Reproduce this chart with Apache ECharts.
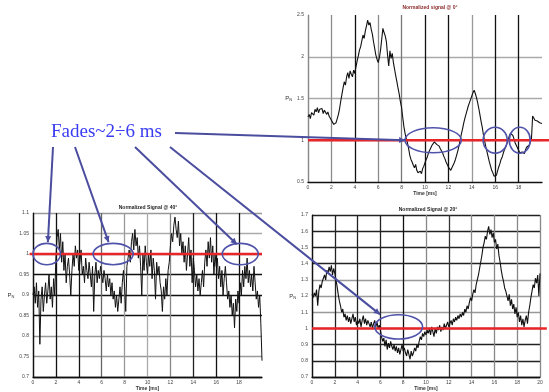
<!DOCTYPE html>
<html>
<head>
<meta charset="utf-8">
<script src="https://cdn.jsdelivr.net/npm/echarts@6/dist/echarts.min.js"></script>
<style>
  html, body { margin: 0; padding: 0; background: #ffffff; }
  #c { width: 549px; height: 392px; }
</style>
</head>
<body>
<div id="c"></div>
<script>
// Sampling step of the recorded envelopes, in ms
const timeStep = 0.1;

// Normalized received power, antenna at 0 degrees (0 .. 20 ms)
const signal0 = [
  1.28,1.31,1.26,1.33,1.35,1.30,1.37,1.34,1.39,1.33,1.37,1.35,1.38,1.32,1.36,1.34,1.31,1.34,1.29,1.27,1.24,
  1.22,1.19,1.17,1.21,1.26,1.31,1.38,1.47,1.55,1.63,1.70,1.66,1.76,1.81,1.74,1.83,1.79,1.76,1.84,1.80,
  1.88,1.95,2.01,2.08,2.12,2.19,2.26,2.22,2.31,2.37,2.44,2.38,2.41,2.33,2.27,2.18,2.10,2.02,1.97,1.93,
  1.99,2.08,2.21,2.34,2.29,2.25,2.18,2.02,1.89,2.07,1.98,2.04,1.93,1.85,1.77,1.70,1.62,1.55,1.46,1.39,
  1.27,1.16,1.08,1.02,0.97,0.90,0.82,0.77,0.74,0.70,0.67,0.71,0.64,0.61,0.59,0.63,0.60,0.66,0.69,0.73,
  0.77,0.80,0.85,0.88,0.91,0.94,0.96,0.98,0.97,0.95,0.96,0.93,0.90,0.88,0.85,0.81,0.78,0.74,0.71,0.68,
  0.66,0.64,0.66,0.70,0.73,0.77,0.82,0.87,0.93,1.00,1.07,1.13,1.20,1.26,1.31,1.36,1.41,1.45,1.49,1.53,
  1.57,1.60,1.56,1.51,1.45,1.38,1.30,1.22,1.15,1.06,0.99,0.92,0.86,0.80,0.74,0.69,0.64,0.61,0.57,0.55,
  0.58,0.63,0.68,0.72,0.77,0.80,0.85,0.89,0.92,0.96,1.00,1.05,1.08,1.10,1.06,1.02,0.97,0.94,0.91,0.88,
  0.85,0.83,0.86,0.88,0.84,0.89,0.92,0.90,0.94,0.98,1.02,1.29,1.27,1.24,1.26,1.23,1.25,1.21,1.23,1.20
];

// Normalized received power, antenna at 40 degrees
const signal40 = [
  0.90,0.92,0.88,0.93,0.87,0.91,0.78,0.89,0.92,0.86,0.90,
  0.93,0.88,0.91,0.95,0.89,0.92,0.87,0.94,0.90,0.99,
  1.04,1.06,1.01,1.05,0.98,1.03,0.96,1.00,0.93,0.97,
  0.99,0.95,0.90,0.96,1.00,0.97,1.02,0.99,1.01,0.96,
  0.98,1.01,0.95,0.97,0.93,0.99,0.96,0.94,0.98,0.95,
  0.92,0.97,0.86,0.95,0.98,0.93,0.96,0.94,0.97,0.95,
  0.93,0.96,0.94,0.91,0.95,0.92,0.94,0.90,0.93,0.89,
  0.91,0.87,0.90,0.86,0.89,0.92,0.88,0.93,0.96,0.92,
  0.86,0.97,0.99,1.01,0.98,1.03,1.05,1.01,1.06,1.02,
  1.04,0.99,1.02,0.97,0.90,1.00,0.96,1.02,0.98,0.95,
  1.00,0.97,1.01,0.94,0.99,0.96,0.89,0.98,0.95,0.97,
  0.93,0.91,0.86,0.92,0.89,0.94,0.90,0.96,0.98,1.02,
  1.05,1.03,1.07,1.09,1.06,1.04,1.08,1.02,1.05,1.00,
  1.03,0.98,1.02,0.96,1.00,1.04,0.97,1.01,0.93,0.99,
  0.96,0.92,0.95,0.91,0.94,0.90,0.93,0.96,0.92,0.98,
  1.01,0.97,1.03,0.99,1.04,0.98,1.02,0.95,1.00,0.97,
  0.99,0.94,0.97,0.92,0.96,0.90,0.94,0.97,0.93,0.89,
  0.91,0.87,0.90,0.85,0.88,0.82,0.89,0.86,0.91,0.88,
  0.93,0.90,0.96,0.92,0.97,0.94,0.99,0.93,0.96,0.92,
  0.95,0.91,0.97,0.93,0.89,0.91,0.87,0.90,0.83,0.74
];

// Normalized received power, antenna at 20 degrees
const signal20 = [
  1.21,1.19,1.22,1.20,1.24,1.14,1.23,1.27,1.25,1.29,1.31,
  1.33,1.30,1.36,1.34,1.38,1.35,1.39,1.33,1.37,1.34,
  1.30,1.26,1.21,1.17,1.14,1.10,1.12,1.07,1.09,1.05,
  1.08,1.04,1.07,1.03,1.06,1.09,1.04,1.07,1.02,1.05,
  1.03,1.06,1.01,1.05,1.08,1.03,1.06,1.02,1.05,1.03,
  1.01,1.04,1.00,1.03,1.05,1.01,1.04,1.00,1.02,0.99,
  0.95,0.92,0.94,0.89,0.93,0.87,0.91,0.88,0.92,0.89,
  0.87,0.90,0.86,0.89,0.85,0.88,0.84,0.87,0.90,0.86,
  0.88,0.85,0.83,0.87,0.84,0.81,0.86,0.83,0.85,0.88,
  0.86,0.90,0.88,0.92,0.95,0.93,0.97,0.95,0.98,0.96,
  0.99,0.97,1.00,0.96,1.01,0.98,0.95,1.00,0.97,1.01,
  0.99,1.02,0.98,1.01,0.99,1.03,1.00,1.02,1.04,1.01,
  1.03,1.05,1.02,1.06,1.04,1.07,1.05,1.08,1.06,1.09,
  1.07,1.10,1.08,1.12,1.10,1.14,1.12,1.16,1.19,1.17,
  1.21,1.24,1.22,1.27,1.30,1.33,1.37,1.41,1.45,1.50,
  1.53,1.57,1.55,1.60,1.63,1.58,1.61,1.56,1.59,1.53,
  1.55,1.49,1.52,1.45,1.41,1.36,1.32,1.29,1.25,1.23,
  1.20,1.17,1.21,1.14,1.18,1.12,1.15,1.09,1.13,1.07,
  1.10,1.04,1.08,1.02,1.06,1.01,1.05,1.08,1.03,1.10,
  1.14,1.19,1.23,1.27,1.25,1.31,1.28,1.33,1.20,1.34
];

// Panel titles
const panelTitles = ['Normalized signal @ 0°', 'Normalized Signal @ 40°', 'Normalized Signal @ 20°'];
// Value axis ranges [min, max, interval] per panel
const valueRanges = [[0.5, 2.5, 0.5], [0.7, 1.1, 0.05], [0.7, 1.7, 0.1]];
// Time axis range in ms
const timeRange = [0, 20, 2];
// Fade threshold (normalized level) and its drawn extent in ms per panel
const fadeLevel = 1;
const fadeSpan = [[0, 20.6], [-0.3, 20], [0, 20.6]];

// Fade regions: panel, centre time, centre level, half-width (ms), half-height
const fadeRegions = [
  { panel: 0, t: 10.7, v: 1.0, dt: 2.4, dv: 0.15 },
  { panel: 0, t: 16.0, v: 1.0, dt: 1.03, dv: 0.155 },
  { panel: 0, t: 18.1, v: 1.0, dt: 0.9, dv: 0.155 },
  { panel: 1, t: 1.2, v: 1.0, dt: 1.2, dv: 0.026 },
  { panel: 1, t: 7.0, v: 1.0, dt: 1.75, dv: 0.026 },
  { panel: 1, t: 18.1, v: 1.0, dt: 1.57, dv: 0.026 },
  { panel: 2, t: 7.6, v: 1.01, dt: 2.1, dv: 0.075 }
];
// Pointer targets from the caption to the fade regions
const pointerTargets = [
  { panel: 0, t: 8.3, v: 1.0 },
  { panel: 1, t: 1.3, v: 1.029 },
  { panel: 1, t: 6.6, v: 1.029 },
  { panel: 1, t: 17.8, v: 1.024 },
  { panel: 2, t: 5.96, v: 1.087 }
];
const captionText = 'Fades~2÷6 ms';

const signals = [signal0, signal40, signal20];

// Grid line shades per tick, from the axis minimum upwards
const xLineShades = [
  ['#999', '#8a8a8a', '#111', '#8a8a8a', '#777', '#111', '#111', '#999', '#111', '#111', 'rgba(0,0,0,0)'],
  ['#111', '#111', '#111', '#666', '#999', '#aaa', '#888', '#222', '#111', '#111', 'rgba(0,0,0,0)'],
  ['#111', '#222', '#222', '#222', '#111', '#888', '#333', '#888', '#888', '#888', '#888']
];
const yLineShades = [
  ['rgba(0,0,0,0)', '#bbb', '#aaa', '#aaa', 'rgba(0,0,0,0)'],
  ['#111', '#999', '#999', '#111', '#111', '#111', '#999', '#aaa', '#999'],
  ['#111', '#222', '#222', '#999', '#999', '#999', '#999', '#222', '#222', '#222', '#222']
];

const grids = [
  { left: 308, top: 15, width: 234, height: 167 },
  { left: 33, top: 213, width: 229, height: 168 },
  { left: 312, top: 215, width: 228, height: 168 }
];

const tinyFont = { fontFamily: 'Liberation Sans', fontSize: 5, color: '#444' };

const chart = echarts.init(document.getElementById('c'), null, { renderer: 'canvas' });

const xAxes = grids.map((g, i) => ({
  type: 'value', gridIndex: i,
  min: timeRange[0], max: timeRange[1], interval: timeRange[2],
  name: 'Time [ms]', nameLocation: 'middle', nameGap: 8,
  nameTextStyle: { fontFamily: 'Liberation Sans', fontSize: 5, fontWeight: 'bold', color: '#333' },
  axisLine: { show: true, lineStyle: { color: '#111', width: 1.3 } },
  axisTick: { show: false },
  axisLabel: Object.assign({ margin: 3, showMaxLabel: i === 2 }, tinyFont),
  splitLine: { show: true, lineStyle: { color: xLineShades[i], width: 1.3 } }
}));

const yAxes = grids.map((g, i) => ({
  type: 'value', gridIndex: i,
  min: valueRanges[i][0], max: valueRanges[i][1], interval: valueRanges[i][2],
  name: '{p|P}{s|N}', nameLocation: 'middle', nameRotate: 0, nameGap: 12,
  nameTextStyle: { rich: { p: { fontSize: 6, color: '#333', fontFamily: 'Liberation Sans' },
                           s: { fontSize: 4, color: '#333', fontFamily: 'Liberation Sans', padding: [3, 0, 0, 0] } } },
  axisLine: { show: true, lineStyle: { color: i === 0 ? '#888' : '#111', width: 1.2 } },
  axisTick: { show: false },
  axisLabel: Object.assign({ margin: 4 }, tinyFont),
  splitLine: { show: true, lineStyle: { color: yLineShades[i], width: 1.3 } }
}));

const series = signals.map((sig, i) => ({
  type: 'line', xAxisIndex: i, yAxisIndex: i,
  data: sig.map((v, k) => [+(k * timeStep).toFixed(2), v]),
  showSymbol: false, symbol: 'none',
  lineStyle: { color: '#111', width: i === 1 ? 1.0 : 1.1 },
  z: 3
}));

const titleCenters = [430, 148, 428];
const titleTops = [5, 205, 207];

chart.setOption({
  backgroundColor: '#ffffff',
  animation: false,
  title: panelTitles.map((t, i) => ({
    text: t, left: titleCenters[i], top: titleTops[i], textAlign: 'center', padding: 0,
    textStyle: { fontFamily: 'Liberation Sans', fontSize: 5, fontWeight: 'bold',
                 color: i === 0 ? '#8a2a2a' : '#222' }
  })),
  grid: grids,
  xAxis: xAxes,
  yAxis: yAxes,
  series: series
});

// Annotation layer: threshold lines, caption, fade ellipses and pointers, placed through the axes
const blue = '#4b4d9e';
function px(panel, t, v) {
  return chart.convertToPixel({ gridIndex: panel }, [t, v]);
}
const elements = [];

fadeSpan.forEach((span, i) => {
  const a = px(i, span[0], fadeLevel);
  const b = px(i, span[1], fadeLevel);
  elements.push({
    type: 'line', z: 99,
    shape: { x1: a[0], y1: a[1], x2: b[0], y2: b[1] },
    style: { stroke: '#e8262a', lineWidth: 2.6 }
  });
});

fadeRegions.forEach(r => {
  const c = px(r.panel, r.t, r.v);
  const e = px(r.panel, r.t + r.dt, r.v + r.dv);
  elements.push({
    type: 'ellipse', z: 100,
    shape: { cx: c[0], cy: c[1], rx: Math.abs(e[0] - c[0]), ry: Math.abs(c[1] - e[1]) },
    style: { fill: 'none', stroke: '#5053aa', lineWidth: 1.6 }
  });
});

const captionAnchors = [[175, 133], [53, 147], [75, 147], [135, 147], [170, 147]];
pointerTargets.forEach((p, i) => {
  const a = captionAnchors[i];
  const b = px(p.panel, p.t, p.v);
  elements.push({
    type: 'line', z: 101,
    shape: { x1: a[0], y1: a[1], x2: b[0], y2: b[1] },
    style: { stroke: blue, lineWidth: 2 }
  });
  const dx = b[0] - a[0], dy = b[1] - a[1];
  const len = Math.sqrt(dx * dx + dy * dy);
  const ux = dx / len, uy = dy / len;
  const hl = 6, hw = 3;
  elements.push({
    type: 'polygon', z: 101,
    shape: { points: [
      [b[0], b[1]],
      [b[0] - ux * hl - uy * hw, b[1] - uy * hl + ux * hw],
      [b[0] - ux * hl + uy * hw, b[1] - uy * hl - ux * hw]
    ] },
    style: { fill: blue }
  });
});

elements.push({
  type: 'text', z: 102, left: 51, top: 123,
  style: { text: captionText, font: '19px "Liberation Serif"', fill: '#3a3cf2' }
});

chart.setOption({ graphic: elements });
</script>
</body>
</html>
